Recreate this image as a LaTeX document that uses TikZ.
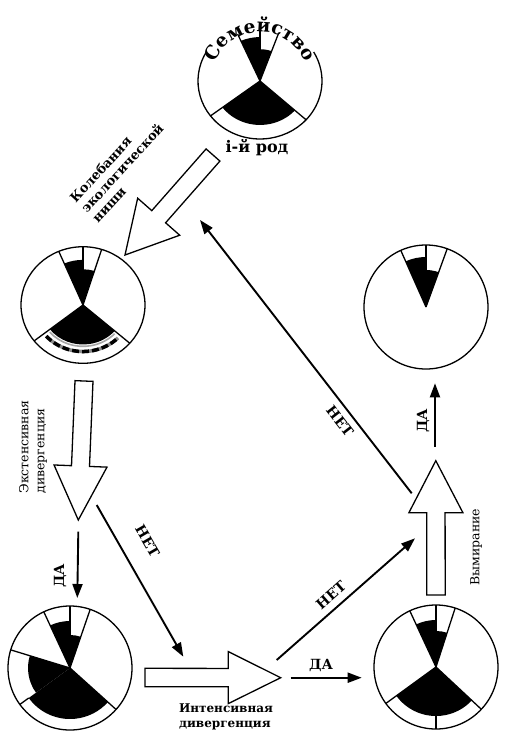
\documentclass[tikz,border=0pt]{standalone}
\usepackage{fontspec}
\setmainfont{DejaVu Serif}
\usetikzlibrary{arrows.meta,calc,decorations.text}
\tikzset{
  pie/.style={line width=1.3pt},
  hollow/.style={draw, line width=1.3pt, fill=white, line join=miter},
  thinarrow/.style={line width=1.9pt, -{Triangle[length=14pt,width=10pt]}},
  lab/.style={font=\bfseries\fontsize{12}{15}\selectfont, inner sep=0pt},
  labreg/.style={font=\fontsize{12.5}{16}\selectfont, inner sep=0pt},
  yn/.style={font=\bfseries\fontsize{14}{15}\selectfont, inner sep=0pt},
}
\newcommand\sector[3]{\fill (0,0) -- (#1:#3) arc[start angle=#1, end angle=#2, radius=#3] -- cycle;}
\newcommand\spoke[3]{\draw[pie] (#1:#2) -- (#1:#3);}
\newcommand\harrow[5]{%
  \coordinate (hb) at ($(#2)!#5!(#1)$);
  \draw[hollow] ($(#1)!#3!90:(#2)$) -- ($(hb)!#3!-90:(#1)$) -- ($(hb)!#4!-90:(#1)$) -- (#2)
    -- ($(hb)!#4!90:(#1)$) -- ($(hb)!#3!90:(#1)$) -- ($(#1)!#3!-90:(#2)$) -- cycle;}
\begin{document}
\begin{tikzpicture}[x=1pt,y=1pt]
\useasboundingbox (0,0) rectangle (508,-740);
\fill[white] (0,0) rectangle (508,-740);

\coordinate (fam) at (260,-81);
\coordinate (niche) at (83,-305);
\coordinate (ext) at (70,-668);
\coordinate (int) at (436,-667);
\coordinate (die) at (426,-307);

% top pie
\begin{scope}[shift={(fam)}, yscale=0.935]
  \sector{90}{114}{47}
  \sector{70}{90}{34}
  \sector{217}{318}{47}
  \spoke{114}{0}{55}\spoke{90}{0}{56}\spoke{70}{0}{55}
  \spoke{217}{0}{62}\spoke{318}{0}{62}
  \draw[pie] (150:62) arc[start angle=150,end angle=390,radius=62];
\end{scope}
\path[decorate, decoration={text along path, text align=center,
   text={|\bfseries\fontsize{18.5}{19}\selectfont|Семейство}}]
   ($(fam)+(165:49)$) arc[start angle=165,end angle=15,radius=49];
\node[font=\bfseries\fontsize{16}{16}\selectfont, inner sep=0pt] (rod) at (257,-148) {і-й род};

% niche pie
\begin{scope}[shift={(niche)}, yscale=0.94]
  \sector{90}{113}{48}
  \sector{72.5}{90}{38}
  \sector{218}{319}{42}
  \draw[black!35, line width=1.6pt] (221:44) arc[start angle=221,end angle=316,radius=44];
  \draw[black!45, line width=3.5pt] (222:49.5) arc[start angle=222,end angle=315,radius=49.5];
  \draw[black, line width=3.5pt, dash pattern=on 7pt off 3pt] (222:49.5) arc[start angle=222,end angle=315,radius=49.5];
  \spoke{113}{0}{62}\spoke{90}{0}{62}\spoke{72.5}{0}{62}
  \spoke{218}{0}{62}\spoke{319}{0}{62}
  \draw[pie] (0,0) circle[radius=62];
\end{scope}

% extensive pie
\begin{scope}[shift={(ext)}]
  \sector{90}{115}{47}
  \sector{71}{90}{33}
  \sector{163}{216}{42}
  \sector{216}{318}{51}
  \spoke{115}{0}{62}\spoke{90}{0}{62}\spoke{71}{0}{62}
  \spoke{163}{0}{62}\spoke{318}{0}{62}\spoke{216}{51}{62}
  \draw[pie] (0,0) circle[radius=62];
\end{scope}

% intensive pie
\begin{scope}[shift={(int)}]
  \sector{90}{115}{47}
  \sector{72}{90}{36}
  \sector{216}{317}{49}
  \spoke{115}{0}{62}\spoke{90}{0}{62}\spoke{72}{0}{62}
  \spoke{216}{0}{62}\spoke{317}{0}{62}\spoke{270}{49}{62}
  \draw[pie] (0,0) circle[radius=62];
\end{scope}

% extinction pie
\begin{scope}[shift={(die)}]
  \sector{90}{114}{50}
  \sector{70}{90}{37}
  \spoke{114}{0}{62}\spoke{90}{0}{62}\spoke{70}{0}{62}
  \draw[pie] (0,0) circle[radius=62];
\end{scope}

% hollow arrows
\coordinate (aS) at (213,-155); \coordinate (aT) at (125,-255);
\harrow{aS}{aT}{9.2pt}{28pt}{51pt}
\coordinate (bS) at (84,-381); \coordinate (bT) at (78.3,-520);
\harrow{bS}{bT}{9pt}{26.5pt}{54pt}
\coordinate (cS) at (145,-677.5); \coordinate (cT) at (280.7,-677.7);
\harrow{cS}{cT}{9.2pt}{26pt}{52.4pt}
\coordinate (dS) at (436,-595); \coordinate (dT) at (435.8,-460.7);
\harrow{dS}{dT}{9.2pt}{27pt}{52pt}

% thin arrows
\coordinate (t1a) at (78.3,-531.7); \coordinate (t1b) at (77.3,-598);
\coordinate (t2a) at (96.7,-505);   \coordinate (t2b) at (183.3,-656.7);
\coordinate (t3a) at (290.7,-677.7); \coordinate (t3b) at (361.7,-677.7);
\coordinate (t4a) at (276.7,-660);  \coordinate (t4b) at (415,-538.3);
\coordinate (t5a) at (411.7,-493.3); \coordinate (t5b) at (200,-220);
\coordinate (t6a) at (435,-446.7);  \coordinate (t6b) at (435,-383.3);
\draw[thinarrow] (t1a) -- (t1b);
\draw[thinarrow] (t2a) -- (t2b);
\draw[thinarrow] (t3a) -- (t3b);
\draw[thinarrow] (t4a) -- (t4b);
\draw[thinarrow] (t5a) -- (t5b);
\draw[thinarrow] (t6a) -- (t6b);

% labels
\node[lab, font=\bfseries\fontsize{13}{15}\selectfont, rotate=47.6, align=left] (lniche) at (122,-168) {Колебания\\экологической\\ниши};
\node[labreg, rotate=90, align=left] (lext) at (33,-447) {Экстенсивная\\дивергенция};
\node[lab, align=left] (lint) at (226,-717) {Интенсивная\\дивергенция};
\node[labreg, rotate=90] (ldie) at (476,-547) {Вымирание};
\node[yn, rotate=90] (y1) at (60,-576) {ДА};
\node[yn, rotate=-60] (n1) at (147.5,-541) {НЕТ};
\node[yn] (y2) at (321,-665) {ДА};
\node[yn, rotate=41.3] (n2) at (331,-595) {НЕТ};
\node[yn, rotate=-52.2] (n3) at (340,-421) {НЕТ};
\node[yn, rotate=90] (y3) at (423,-421) {ДА};
\end{tikzpicture}
\end{document}
